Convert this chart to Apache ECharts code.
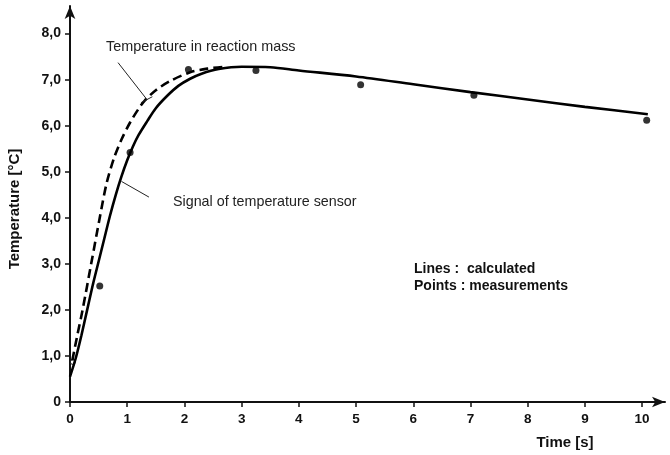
<!DOCTYPE html>
<html><head><meta charset="utf-8">
<script src="https://cdn.jsdelivr.net/npm/echarts@6/dist/echarts.min.js"></script>
<style>html,body{margin:0;padding:0;background:#fff}#c{width:670px;height:455px}</style>
</head><body><div id="c"></div>
<script>
// Calculated: signal of temperature sensor (solid)
const sensorX = [0, 0.1, 0.2, 0.3, 0.4, 0.5, 0.6, 0.7, 0.8, 0.9, 1.0, 1.1, 1.2, 1.35, 1.5, 1.7, 1.9, 2.1, 2.3, 2.6, 3.0, 3.5, 4, 5, 6, 7, 8, 9, 10.1];
const sensorY = [0.55, 0.95, 1.45, 2.0, 2.55, 3.05, 3.55, 4.05, 4.5, 4.9, 5.25, 5.55, 5.8, 6.1, 6.38, 6.65, 6.87, 7.02, 7.13, 7.23, 7.28, 7.27, 7.2, 7.07, 6.9, 6.73, 6.57, 6.41, 6.25];
// Calculated: temperature in reaction mass (dashed)
const massX = [0.04, 0.12, 0.22, 0.37, 0.52, 0.64, 0.77, 0.9, 1.05, 1.2, 1.31, 1.5, 1.75, 2.1, 2.4, 2.7];
const massY = [0.9, 1.4, 2.0, 3.0, 4.0, 4.75, 5.3, 5.7, 6.07, 6.37, 6.55, 6.77, 6.97, 7.16, 7.24, 7.28];
// Measurements
const measX = [0.52, 1.05, 2.07, 3.25, 5.08, 7.06, 10.08];
const measY = [2.52, 5.42, 7.22, 7.2, 6.89, 6.66, 6.12];
const startX = [0.05];
const startY = [0.87];
// Axis ticks
const xTicks = [0,1,2,3,4,5,6,7,8,9,10];
const yTicks = [0,1,2,3,4,5,6,7,8];
const yTickLabels = ['0','1,0','2,0','3,0','4,0','5,0','6,0','7,0','8,0'];

const zip = (a,b) => a.map((v,i)=>[v,b[i]]);
const chart = echarts.init(document.getElementById('c'), null, {renderer:'canvas'});
const FONT = 'Liberation Sans, Arial, sans-serif';
const axisLine = {show:true, onZero:false, lineStyle:{color:'#111', width:2}, symbol:['none','arrow'], symbolSize:[8,13]};
chart.setOption({
  animation:false,
  backgroundColor:'#fff',
  grid:{left:70, right:5, top:6, bottom:53},
  xAxis:{type:'value', min:0, max:10.4, axisLine, splitLine:{show:false},
    axisTick:{show:true, length:5, lineStyle:{color:'#111', width:1.5}, customValues:xTicks},
    axisLabel:{customValues:xTicks, color:'#111', fontFamily:FONT, fontWeight:'bold', fontSize:13.5, margin:10}
  },
  yAxis:{type:'value', min:0, max:8.6, axisLine, splitLine:{show:false},
    axisTick:{show:true, length:5, lineStyle:{color:'#111', width:1.5}, customValues:yTicks},
    axisLabel:{customValues:yTicks, color:'#111', fontFamily:FONT, fontWeight:'bold', fontSize:14, margin:9,
      formatter:(v)=>{const i=yTicks.indexOf(v); return i>=0?yTickLabels[i]:'';}}
  },
  series:[
    {type:'line', data:zip(sensorX,sensorY), smooth:0.3, showSymbol:false,
     lineStyle:{color:'#000', width:2.6},
     markLine:{silent:true, symbol:['none','none'], label:{show:false}, lineStyle:{color:'#222', width:1, type:'solid'},
       data:[
         [{coord:[0.9,4.79]},{coord:[1.38,4.45]}],
         [{coord:[0.84,7.37]},{coord:[1.35,6.56]}],
         [{coord:[1.24,6.5]},{coord:[1.44,6.63]}]
       ]}},
    {type:'line', data:zip(massX,massY), smooth:0.3, showSymbol:false,
     lineStyle:{color:'#000', width:2.6, type:[9,5]}},
    {type:'scatter', data:zip(measX,measY), symbol:'circle', symbolSize:7, itemStyle:{color:'#000'}},
    {type:'scatter', data:zip(startX,startY), symbol:'circle', symbolSize:5, itemStyle:{color:'#fff', borderColor:'#000', borderWidth:1}}
  ],
  graphic:[
    {type:'text', left:106, top:40, style:{text:'Temperature in reaction mass', font:'14.4px '+FONT, fill:'#222'}},
    {type:'text', left:173, top:195, style:{text:'Signal of temperature sensor', font:'14.3px '+FONT, fill:'#222'}},
    {type:'text', left:414, top:262, style:{text:'Lines :  calculated', font:'bold 14px '+FONT, fill:'#111'}},
    {type:'text', left:414, top:279, style:{text:'Points : measurements', font:'bold 14px '+FONT, fill:'#111'}},
    {type:'text', x:565, y:443, style:{text:'Time [s]', font:'bold 15px '+FONT, fill:'#111', align:'center', verticalAlign:'middle'}},
    {type:'text', x:15, y:209, rotation:Math.PI/2, style:{text:'Temperature [°C]', font:'bold 15px '+FONT, fill:'#111', align:'center', verticalAlign:'middle'}}
  ]
});
</script></body></html>
